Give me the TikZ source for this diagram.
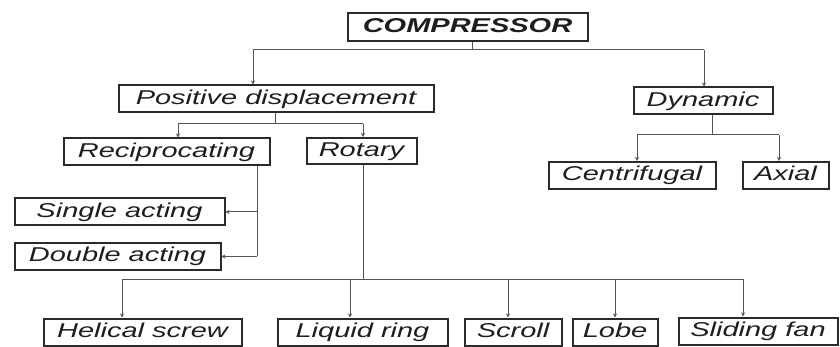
\documentclass[tikz,border=0pt]{standalone}
\usepackage{fontspec}
\usetikzlibrary{arrows.meta}
\newfontfamily\boxfont{Liberation Sans}[FakeStretch=1.45]
\definecolor{boxline}{HTML}{2A2A2A}
\definecolor{connline}{HTML}{555555}
\definecolor{txt}{HTML}{1E1E1E}
\tikzset{
  bx/.style={draw=boxline, line width=2pt, rectangle, inner sep=0pt,
    minimum height=27pt, text=txt, text height=14.5pt, text depth=4pt,
    font=\boxfont\itshape\fontsize{20}{23}\selectfont},
  conn/.style={draw=connline, line width=1pt},
  arr/.style={conn, -{Stealth[length=4pt,width=4pt]}}
}
\begin{document}
\begin{tikzpicture}[x=1pt,y=-1pt]
\useasboundingbox[fill=white] (0,0) rectangle (840,347);
% boxes
\node[bx, minimum width=240pt, minimum height=28pt, font=\boxfont\bfseries\itshape\fontsize{20}{23}\selectfont] (comp) at (467.5,27.5) {COMPRESSOR};
\node[bx, minimum width=315pt] (pos) at (276,99) {Positive displacement};
\node[bx, minimum width=139pt] (dyn) at (703,101) {Dynamic};
\node[bx, minimum width=206pt] (rec) at (166.5,152) {Reciprocating};
\node[bx, minimum width=110pt, minimum height=26pt] (rot) at (361.5,151) {Rotary};
\node[bx, minimum width=167pt] (cen) at (632,175.5) {Centrifugal};
\node[bx, minimum width=86pt] (axi) at (785.5,175.5) {Axial};
\node[bx, minimum width=210pt] (sin) at (119.5,212) {Single acting};
\node[bx, minimum width=206pt] (dou) at (117.5,256.5) {Double acting};
\node[bx, minimum width=198pt] (hel) at (142.5,332) {Helical screw};
\node[bx, minimum width=170pt] (liq) at (362.5,332) {Liquid ring};
\node[bx, minimum width=97pt] (scr) at (513,332) {Scroll};
\node[bx, minimum width=85pt] (lob) at (615,332) {Lobe};
\node[bx, minimum width=159pt] (sli) at (758,331) {Sliding fan};
% junction coordinates
\coordinate (c0) at (472,50);
\coordinate (c1) at (253,50);
\coordinate (c2) at (704,50);
\coordinate (p0) at (275,124);
\coordinate (p1) at (178,124);
\coordinate (p2) at (363,124);
\coordinate (d0) at (712,135);
\coordinate (d1) at (637,135);
\coordinate (d2) at (779,135);
\coordinate (r1) at (257,212);
\coordinate (r2) at (257,256.5);
\coordinate (t0) at (363,279);
\coordinate (t1) at (122,279);
\coordinate (t2) at (350,279);
\coordinate (t3) at (508,279);
\coordinate (t4) at (615,279);
\coordinate (t5) at (743,279);
% compressor
\draw[conn] (c0 |- comp.south) -- (c0);
\draw[conn] (c1) -- (c2);
\draw[arr] (c1) -- (c1 |- pos.north);
\draw[arr] (c2) -- (c2 |- dyn.north);
% positive displacement
\draw[conn] (p0 |- pos.south) -- (p0);
\draw[conn] (p1) -- (p2);
\draw[arr] (p1) -- (p1 |- rec.north);
\draw[arr] (p2) -- (p2 |- rot.north);
% dynamic
\draw[conn] (d0 |- dyn.south) -- (d0);
\draw[conn] (d1) -- (d2);
\draw[arr] (d1) -- (d1 |- cen.north);
\draw[arr] (d2) -- (d2 |- axi.north);
% reciprocating
\draw[conn] (r1 |- rec.south) -- (r2);
\draw[arr] (r1) -- (sin.east |- r1);
\draw[arr] (r2) -- (dou.east |- r2);
% rotary
\draw[conn] (t0 |- rot.south) -- (t0);
\draw[conn] (t1) -- (t5);
\draw[arr] (t1) -- (t1 |- hel.north);
\draw[arr] (t2) -- (t2 |- liq.north);
\draw[arr] (t3) -- (t3 |- scr.north);
\draw[arr] (t4) -- (t4 |- lob.north);
\draw[arr] (t5) -- (t5 |- sli.north);
\end{tikzpicture}
\end{document}
